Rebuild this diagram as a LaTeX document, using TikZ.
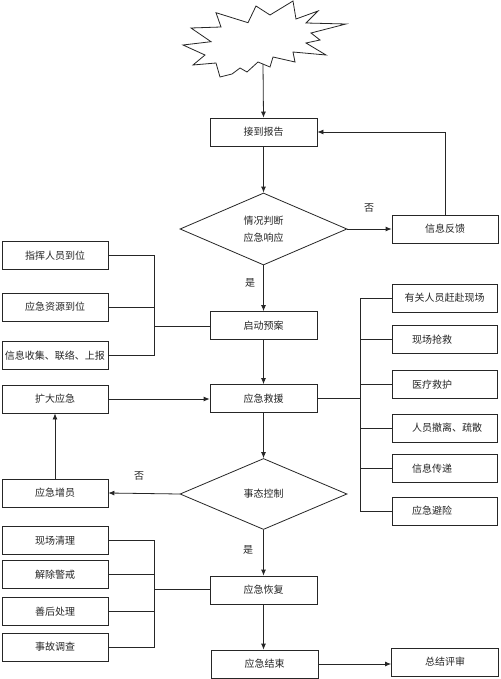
\documentclass[tikz,border=0pt]{standalone}
\usepackage{fontspec}
\newfontfamily\cjk{Noto Sans CJK SC}
\usetikzlibrary{arrows.meta,shapes.geometric}
\begin{document}
\begin{tikzpicture}[x=1pt,y=-1pt,
  every node/.style={font=\cjk\fontsize{10}{17}\selectfont, text=black!85},
  box/.style={draw=black!85, line width=0.8pt, minimum width=107pt, minimum height=28pt, inner sep=0pt},
  sbox/.style={box, minimum width=106pt},
  rbox/.style={box, minimum width=105pt},
  lbox/.style={rbox, text width=95pt, inner xsep=5pt, align=left},
  dec/.style={draw=black!85, line width=0.8pt, diamond, aspect=2.33, minimum width=167pt, minimum height=72pt, inner sep=0pt, align=center},
  ln/.style={draw=black!85, line width=0.8pt},
  arr/.style={ln, -{Latex[length=6pt,width=5pt]}},
  lbl/.style={font=\cjk\fontsize{10}{12}\selectfont}
]
\useasboundingbox (0,0) rectangle (500,679);
\fill[white] (0,0) rectangle (500,679);

% starburst
\draw[ln, line join=miter] (183,45) -- (211,41.7) -- (191,28) -- (221,27) -- (216,12.7) -- (248,22.7)
  -- (256,6) -- (270,15) -- (293,1) -- (296,19) -- (318,11) -- (306,23) -- (346,24) -- (311,33)
  -- (320,40) -- (306,43) -- (326,55) -- (293,52) -- (295,62) -- (273,57) -- (270,67) -- (258,62)
  -- (247,72) -- (240,68) -- (232,74) -- (220,77) -- (216,63) -- (193,65) -- (205,55) -- cycle;
\coordinate (sb) at (263,64);

% main column
\node[box] (report) at (263.5,132) {接到报告};
\node[dec] (judge) at (263.5,229) {情况判断\\应急响应};
\node[sbox] (fb) at (445,229) {信息反馈};
\node[box] (launch) at (263.5,325.5) {启动预案};
\node[box] (rescue) at (263.5,398.5) {应急救援};
\node[dec, minimum height=71pt] (ctrl) at (263.5,494) {事态控制};
\node[box] (restore) at (263.5,590) {应急恢复};
\node[box] (finish) at (264.5,664) {应急结束};
\node[box] (review) at (445,662) {总结评审};

% left group 1
\node[sbox] (l1) at (55,255.3) {指挥人员到位};
\node[sbox] (l2) at (55,307) {应急资源到位};
\node[sbox] (l3) at (55,355.4) {信息收集、联络、上报};
\coordinate (ja) at (154,326);

% right group
\node[rbox] (r1) at (444.5,298) {有关人员赶赴现场};
\node[lbox] (r2) at (444.5,339.5) {\hspace*{15pt}现场抢救};
\node[lbox] (r3) at (444.5,384.5) {\hspace*{15pt}医疗救护};
\node[lbox] (r4) at (444.5,428) {\hspace*{15pt}人员撤离、疏散};
\node[lbox] (r5) at (444.5,468.5) {\hspace*{15pt}信息传递};
\node[lbox] (r6) at (444.5,511) {\hspace*{15pt}应急避险};
\coordinate (jr) at (360,398.5);

% left middle
\node[sbox] (expand) at (55,399) {扩大应急};
\node[sbox] (add) at (55,493) {应急增员};

% left group 2
\node[sbox] (b1) at (55,540.5) {现场清理};
\node[sbox] (b2) at (55,574.5) {解除警戒};
\node[sbox] (b3) at (55,611.5) {善后处理};
\node[sbox] (b4) at (55,647) {事故调查};
\coordinate (jb) at (154,589);

% labels
\node[lbl] (no1) at (369,208) {否};
\node[lbl] (yes1) at (250,283) {是};
\node[lbl] (no2) at (139,476) {否};
\node[lbl] (yes2) at (248,550) {是};

% main arrows
\draw[arr] (sb) -- (report.north);
\draw[arr] (report.south) -- (judge.north);
\draw[arr] (judge.east) -- (fb.west);
\draw[arr] (fb.north) |- (report.east);
\draw[arr] (judge.south) -- (launch.north);
\draw[arr] (launch.south) -- (rescue.north);
\draw[arr] (rescue.south) -- (ctrl.north);
\draw[arr] (ctrl.west) -- (add.east);
\draw[arr] (add.north) -- (expand.south);
\draw[arr] (expand.east) -- (rescue.west |- expand.east);
\draw[arr] (ctrl.south) -- (restore.north);
\draw[arr] (restore.south) -- (finish.north -| restore.south);
\draw[arr] (finish.east) -- (review.west |- finish.east);

% bracket 1
\draw[ln] (l1.east) -- (l1.east -| ja) -- (l3.east -| ja) -- (l3.east);
\draw[ln] (l2.east) -- (l2.east -| ja);
\draw[ln] (ja) -- (launch.west |- ja);

% right bracket
\draw[ln] (rescue.east) -- (jr);
\draw[ln] (r1.west) -- (r1.west -| jr) -- (r6.west -| jr) -- (r6.west);
\draw[ln] (r2.west) -- (r2.west -| jr);
\draw[ln] (r3.west) -- (r3.west -| jr);
\draw[ln] (r4.west) -- (r4.west -| jr);
\draw[ln] (r5.west) -- (r5.west -| jr);

% bracket 2
\draw[ln] (b1.east) -- (b1.east -| jb) -- (b4.east -| jb) -- (b4.east);
\draw[ln] (b2.east) -- (b2.east -| jb);
\draw[ln] (b3.east) -- (b3.east -| jb);
\draw[ln] (jb) -- (restore.west |- jb);
\end{tikzpicture}
\end{document}
